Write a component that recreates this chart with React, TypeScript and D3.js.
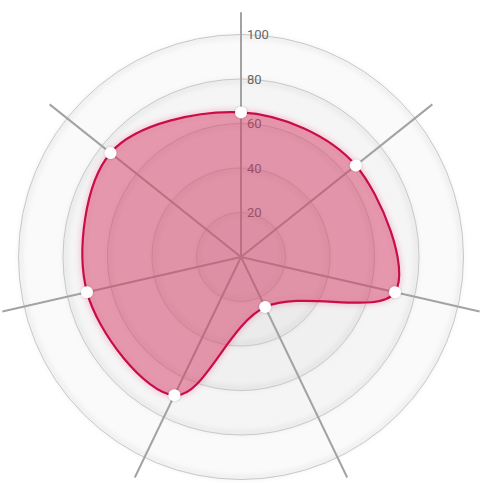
import React, { useRef, useEffect } from 'react';
import * as d3 from 'd3';

// one value per spoke, clockwise from the top
const axes = ['A', 'B', 'C', 'D', 'E', 'F', 'G'];
const values = [65, 66, 71, 25, 69, 71, 75];
const ticks = [20, 40, 60, 80, 100];

const width = 492;
const height = 497;

const App: React.FC = () => {
  const svgRef = useRef<SVGSVGElement>(null);

  useEffect(() => {
    if (!svgRef.current) return;
    const svg = d3.select(svgRef.current);
    svg.selectAll('*').remove();

    const cx = 241;
    const cy = 257;
    const maxValue = 100;

    const r = d3.scaleLinear().domain([0, maxValue]).range([0, 222.5]);
    const angle = d3
      .scaleLinear()
      .domain([0, axes.length])
      .range([0, 2 * Math.PI]);

    const defs = svg.append('defs');

    // soft shadow along the ring lines
    const ringShadow = defs
      .append('filter')
      .attr('id', 'ring-shadow')
      .attr('x', '-10%')
      .attr('y', '-10%')
      .attr('width', '120%')
      .attr('height', '120%');
    ringShadow.append('feGaussianBlur').attr('stdDeviation', 2.5);

    // pink glow round the area
    const glow = defs
      .append('filter')
      .attr('id', 'glow')
      .attr('x', '-20%')
      .attr('y', '-20%')
      .attr('width', '140%')
      .attr('height', '140%');
    glow.append('feGaussianBlur').attr('in', 'SourceAlpha').attr('stdDeviation', 3).attr('result', 'b');
    glow
      .append('feFlood')
      .attr('flood-color', '#e0245e')
      .attr('flood-opacity', 0.4)
      .attr('result', 'c');
    glow.append('feComposite').attr('in', 'c').attr('in2', 'b').attr('operator', 'in').attr('result', 's');
    const merge = glow.append('feMerge');
    merge.append('feMergeNode').attr('in', 's');
    merge.append('feMergeNode').attr('in', 'SourceGraphic');

    const pointShadow = defs.append('filter').attr('id', 'pt-shadow');
    pointShadow
      .append('feDropShadow')
      .attr('dx', 0)
      .attr('dy', 0)
      .attr('stdDeviation', 1)
      .attr('flood-color', '#000')
      .attr('flood-opacity', 0.25);

    const g = svg.append('g').attr('transform', `translate(${cx},${cy})`);

    // Rings, largest first so the inner bands get darker
    const rings = ticks.slice().reverse();
    g.selectAll('.ring-fill')
      .data(rings)
      .enter()
      .append('circle')
      .attr('r', (d) => r(d))
      .attr('fill', 'rgba(0,0,0,0.02)');

    g.selectAll('.ring-shadow')
      .data(rings)
      .enter()
      .append('circle')
      .attr('r', (d) => r(d) - 2)
      .attr('fill', 'none')
      .attr('stroke', 'rgba(0,0,0,0.06)')
      .attr('stroke-width', 4)
      .attr('filter', 'url(#ring-shadow)');

    g.selectAll('.ring')
      .data(rings)
      .enter()
      .append('circle')
      .attr('r', (d) => r(d))
      .attr('fill', 'none')
      .attr('stroke', '#c8c8c8')
      .attr('stroke-width', 1);

    // Spokes
    g.selectAll('.axis')
      .data(axes)
      .enter()
      .append('line')
      .attr('x1', 0)
      .attr('y1', 0)
      .attr('x2', (d, i) => r(maxValue * 1.1) * Math.sin(angle(i)))
      .attr('y2', (d, i) => -r(maxValue * 1.1) * Math.cos(angle(i)))
      .attr('stroke', '#a3a3a3')
      .attr('stroke-width', 2);

    // Tick labels
    g.selectAll('.tick')
      .data(ticks)
      .enter()
      .append('text')
      .attr('x', 6)
      .attr('y', (d) => -r(d))
      .attr('dy', '0.35em')
      .attr('font-family', 'Roboto, sans-serif')
      .attr('font-size', '13px')
      .attr('fill', '#666')
      .text((d) => d);

    // Area
    const line = d3
      .lineRadial<number>()
      .angle((d, i) => angle(i))
      .radius((d) => r(d))
      .curve(d3.curveCardinalClosed.tension(0));

    g.append('path')
      .datum(values)
      .attr('d', line)
      .attr('fill', 'rgba(210, 60, 100, 0.4)')
      .attr('stroke', '#c8104a')
      .attr('stroke-width', 2.2)
      .attr('filter', 'url(#glow)');

    // Points
    g.selectAll('.point')
      .data(values)
      .enter()
      .append('circle')
      .attr('cx', (d, i) => r(d) * Math.sin(angle(i)))
      .attr('cy', (d, i) => -r(d) * Math.cos(angle(i)))
      .attr('r', 6)
      .attr('fill', '#fff')
      .attr('filter', 'url(#pt-shadow)');
  }, []);

  return (
    <svg
      ref={svgRef}
      width={width}
      height={height}
      style={{ position: 'absolute', left: 0, top: 0 }}
    />
  );
};

export default App;
